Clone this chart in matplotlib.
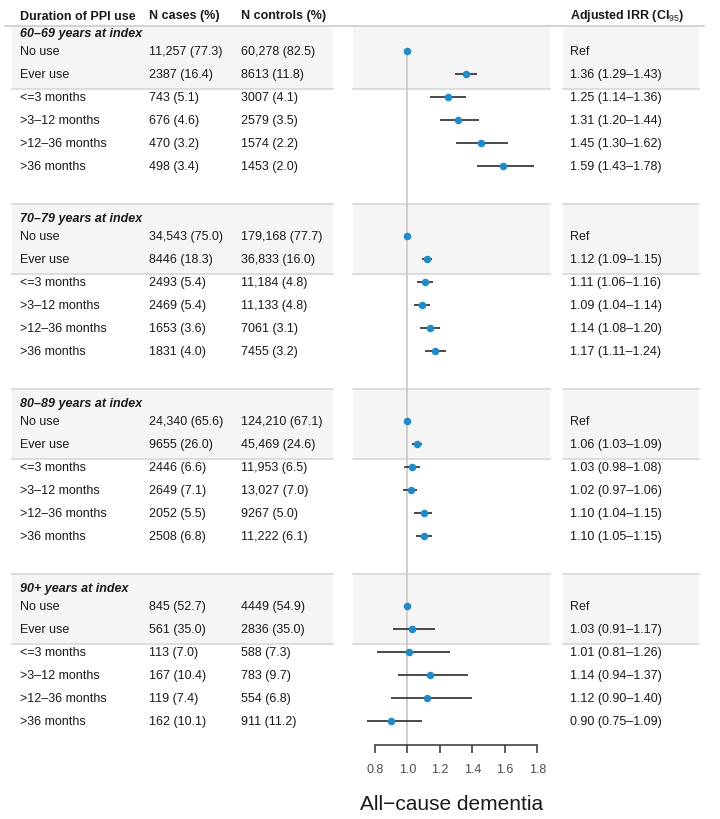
import matplotlib
matplotlib.use('Agg')
import numpy as np
import matplotlib.pyplot as plt
from matplotlib.transforms import blended_transform_factory as btf
from matplotlib.patches import Rectangle

plt.rcParams['font.family'] = ['Liberation Sans', 'DejaVu Sans']
plt.rcParams['mathtext.fontset'] = 'custom'
plt.rcParams['mathtext.rm'] = 'Liberation Sans'
plt.rcParams['mathtext.bf'] = 'Liberation Sans:bold'

# ---------------- data ----------------
groups = ['60\u201369 years at index', '70\u201379 years at index',
          '80\u201389 years at index', '90+ years at index']
categories = ['No use', 'Ever use', '<=3 months', '>3\u201312 months',
              '>12\u201336 months', '>36 months']

n_cases = [
    ['11,257 (77.3)', '2387 (16.4)', '743 (5.1)', '676 (4.6)', '470 (3.2)', '498 (3.4)'],
    ['34,543 (75.0)', '8446 (18.3)', '2493 (5.4)', '2469 (5.4)', '1653 (3.6)', '1831 (4.0)'],
    ['24,340 (65.6)', '9655 (26.0)', '2446 (6.6)', '2649 (7.1)', '2052 (5.5)', '2508 (6.8)'],
    ['845 (52.7)', '561 (35.0)', '113 (7.0)', '167 (10.4)', '119 (7.4)', '162 (10.1)'],
]
n_controls = [
    ['60,278 (82.5)', '8613 (11.8)', '3007 (4.1)', '2579 (3.5)', '1574 (2.2)', '1453 (2.0)'],
    ['179,168 (77.7)', '36,833 (16.0)', '11,184 (4.8)', '11,133 (4.8)', '7061 (3.1)', '7455 (3.2)'],
    ['124,210 (67.1)', '45,469 (24.6)', '11,953 (6.5)', '13,027 (7.0)', '9267 (5.0)', '11,222 (6.1)'],
    ['4449 (54.9)', '2836 (35.0)', '588 (7.3)', '783 (9.7)', '554 (6.8)', '911 (11.2)'],
]
irr = [
    [1.00, 1.36, 1.25, 1.31, 1.45, 1.59],
    [1.00, 1.12, 1.11, 1.09, 1.14, 1.17],
    [1.00, 1.06, 1.03, 1.02, 1.10, 1.10],
    [1.00, 1.03, 1.01, 1.14, 1.12, 0.90],
]
ci_low = [
    [np.nan, 1.29, 1.14, 1.20, 1.30, 1.43],
    [np.nan, 1.09, 1.06, 1.04, 1.08, 1.11],
    [np.nan, 1.03, 0.98, 0.97, 1.04, 1.05],
    [np.nan, 0.91, 0.81, 0.94, 0.90, 0.75],
]
ci_high = [
    [np.nan, 1.43, 1.36, 1.44, 1.62, 1.78],
    [np.nan, 1.15, 1.16, 1.14, 1.20, 1.24],
    [np.nan, 1.09, 1.08, 1.06, 1.15, 1.15],
    [np.nan, 1.17, 1.26, 1.37, 1.40, 1.09],
]
x_ticks = [0.8, 1.0, 1.2, 1.4, 1.6, 1.8]
headers = ['Duration of PPI use', 'N cases (%)', 'N controls (%)']
irr_header = r'Adjusted IRR (CI$_{95}$)'
x_label = 'All\u2212cause dementia'

# ---------------- layout ----------------
W, H = 720, 819
fig = plt.figure(figsize=(W / 100, H / 100), dpi=100)
AX_L, AX_R, AX_B = 353, 550, 745
ax = fig.add_axes([AX_L / W, 1 - AX_B / H, (AX_R - AX_L) / W, AX_B / H])
ax.set_ylim(AX_B, 0)
ax.set_xlim(0.6645, 1.878)

GROUP_START, GROUP_STEP = 33, 185
ROW_OFF = [18, 41, 64, 87, 110, 133]
HEADER_Y, HEADER_LINE = 15.5, 26
TXT_DY = 1.2  # small baseline correction for text
HEADER_DY = [1.0, 0.0, 0.0]

col_x = [20 / W, 149 / W, 241 / W]
irr_x = 570 / W
panels = [(12 / W, 333 / W), (AX_L / W, AX_R / W), (563 / W, 699 / W)]

tf = btf(fig.transFigure, ax.transData)
SHADE = '#f5f5f5'
LINEC = '#dadada'
TXT = '#1a1a1a'
FS = 9

# header
for x, h, dy in zip(col_x, headers, HEADER_DY):
    ax.text(x, HEADER_Y + dy, h, transform=tf, fontsize=FS, fontweight='bold',
            va='center', ha='left', color=TXT, clip_on=False)
ax.text(irr_x, HEADER_Y, irr_header, transform=tf, fontsize=FS, fontweight='bold',
        va='center', ha='left', color=TXT, clip_on=False)
ax.plot([5 / W, 704 / W], [HEADER_LINE, HEADER_LINE], transform=tf, color='#d0d0d0',
        lw=1.3, clip_on=False, zorder=1)

first_y = None
for g, gname in enumerate(groups):
    ty = GROUP_START + GROUP_STEP * g
    top = HEADER_LINE if g == 0 else ty - 14
    bot = ty + ROW_OFF[1] + 15
    for (x0, x1) in panels:
        ax.add_patch(Rectangle((x0, top), x1 - x0, bot - top, transform=tf,
                               facecolor=SHADE, edgecolor='none', zorder=0, clip_on=False))
        if g > 0:
            ax.plot([x0, x1], [top, top], transform=tf, color=LINEC, lw=1.3,
                    clip_on=False, zorder=1)
        ax.plot([x0, x1], [bot, bot], transform=tf, color=LINEC, lw=1.3,
                clip_on=False, zorder=1)
    ax.text(col_x[0], ty + TXT_DY, gname, transform=tf, fontsize=FS, fontweight='bold',
            fontstyle='italic', va='center', ha='left', color=TXT, clip_on=False)
    for i, cat in enumerate(categories):
        y = ty + ROW_OFF[i]
        yt = y + TXT_DY
        if first_y is None:
            first_y = y
        ax.text(col_x[0], yt, cat, transform=tf, fontsize=FS, va='center', color=TXT, clip_on=False)
        ax.text(col_x[1], yt, n_cases[g][i], transform=tf, fontsize=FS, va='center', color=TXT, clip_on=False)
        ax.text(col_x[2], yt, n_controls[g][i], transform=tf, fontsize=FS, va='center', color=TXT, clip_on=False)
        lo, hi, est = ci_low[g][i], ci_high[g][i], irr[g][i]
        if np.isnan(lo):
            lab = 'Ref'
        else:
            lab = f'{est:.2f} ({lo:.2f}\u2013{hi:.2f})'
            ax.plot([lo, hi], [y, y], color='#2b2b2b', lw=1.2, zorder=3, solid_capstyle='butt')
        ax.text(irr_x, yt, lab, transform=tf, fontsize=FS, va='center', color=TXT, clip_on=False)
        ax.plot([est], [y], 'o', color='#1b8ccc', ms=4.4, zorder=4, mec='#1b8ccc')

ax.vlines(1.0, first_y, AX_B, color='#c4c4c4', lw=1.1, zorder=2)

# axis styling
for s in ['top', 'left', 'right']:
    ax.spines[s].set_visible(False)
ax.spines['bottom'].set_bounds(0.8, 1.8)
ax.spines['bottom'].set_color('#333333')
ax.spines['bottom'].set_linewidth(1.1)
ax.set_yticks([])
ax.set_xticks(x_ticks)
ax.set_xticklabels([f'{t:.1f}' for t in x_ticks])
ax.tick_params(axis='x', direction='out', length=5.5, width=1.1, color='#333333',
               labelsize=9, labelcolor='#4d4d4d', pad=8.5)
ax.set_xlabel(x_label, fontsize=15, color='#1a1a1a', labelpad=13)
ax.patch.set_alpha(0)

fig.savefig('out.png', dpi=100)
